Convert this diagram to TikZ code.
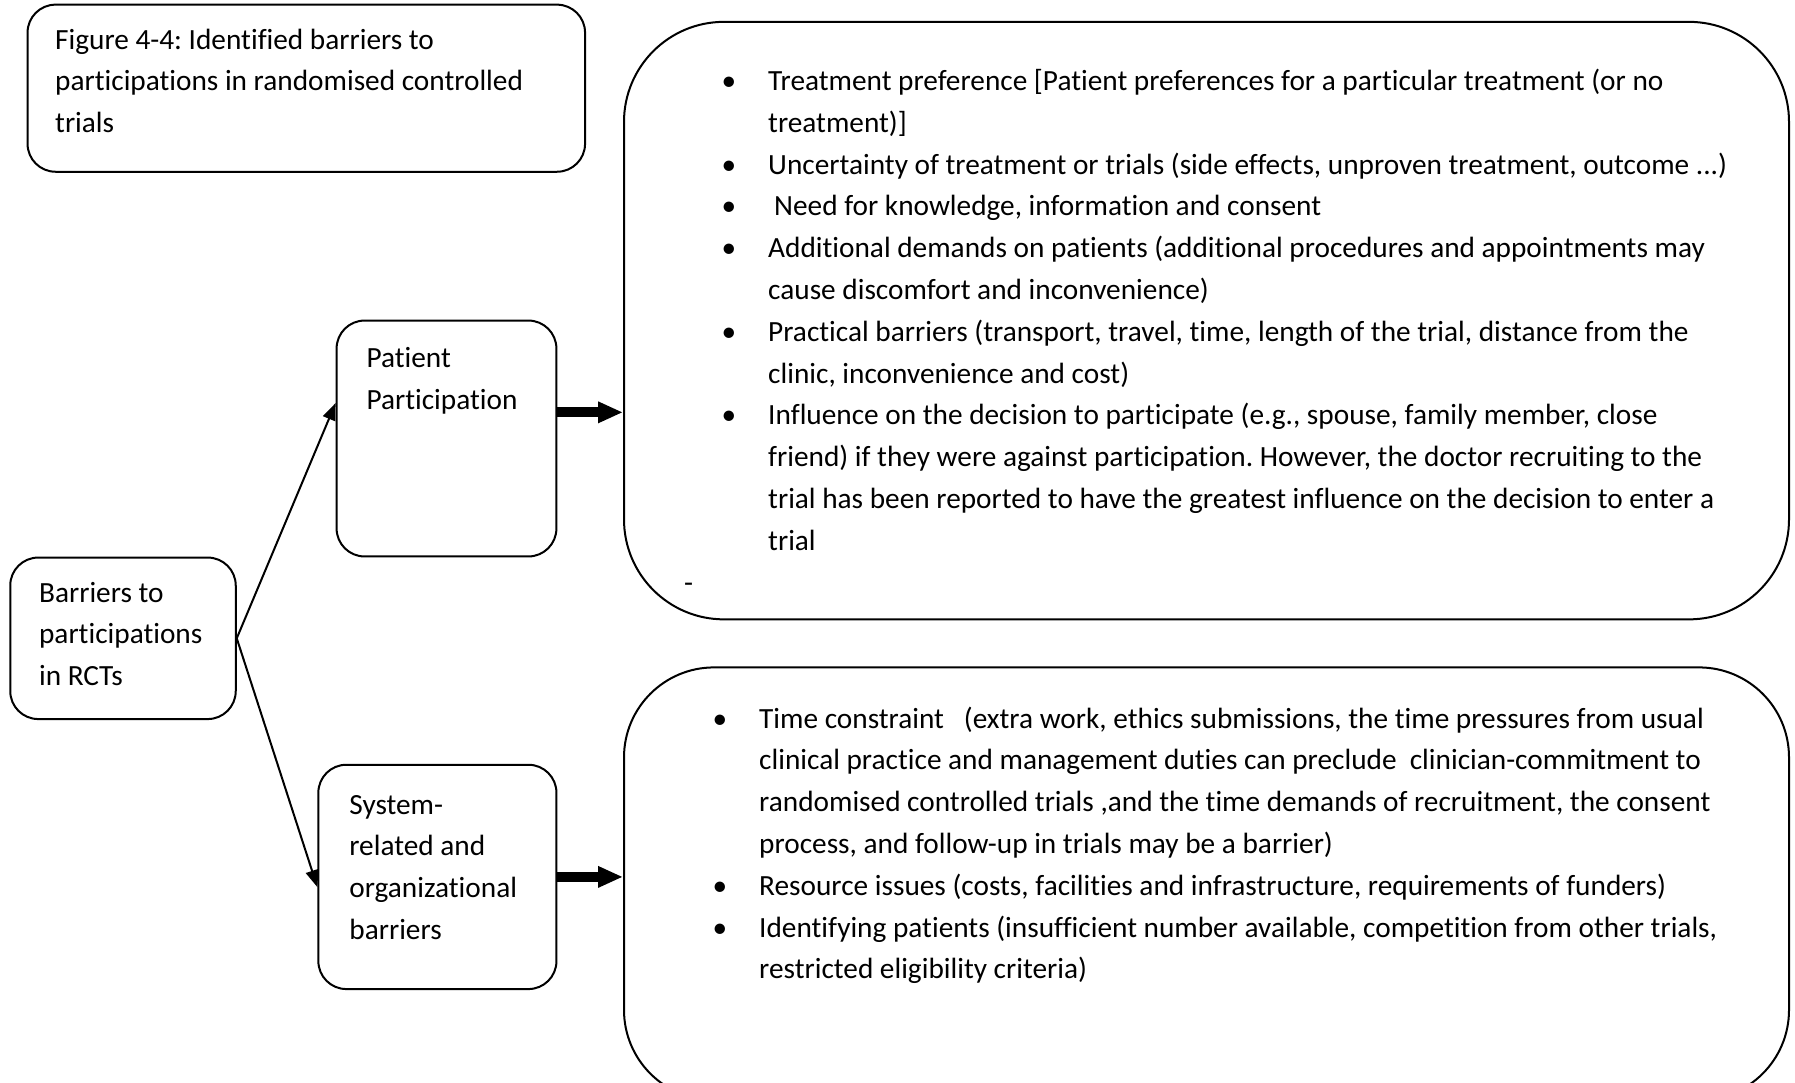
\documentclass[tikz,border=0pt]{standalone}
\usepackage{fontspec}
\setmainfont{Carlito}[Ligatures={TeX,NoCommon}]
\usetikzlibrary{arrows.meta,calc}
\newcommand\bul{\llap{\textbullet\hspace{32pt}}}
\frenchspacing
\begin{document}
\begin{tikzpicture}[x=1pt,y=-1pt,
  box/.style={draw, line width=2pt, rounded corners=28pt, inner sep=0pt},
  bigbox/.style={draw, line width=2pt, inner sep=0pt},
  txt/.style={anchor=base west, inner sep=0pt, align=left, font=\fontsize{29.3pt}{41.8pt}\selectfont\frenchspacing},
  thinarrow/.style={line width=2pt, -{Triangle[length=17pt,width=13pt]}},
  thickarrow/.style={line width=10pt, -{Triangle[length=25pt,width=20pt]}}]
\useasboundingbox (0,0) rectangle (1795,1082);
\clip (0,0) rectangle (1795,1082);
\fill[white] (0,0) rectangle (1795,1082);

% title (text nodes are anchored at the baseline of their last line)
\node[box, minimum width=557.5pt, minimum height=167.1pt] (titlebox) at (306.3,88.2) {};
\node[txt] (titletext) at (55,132.6) {Figure 4-4: Identified barriers to\\participations in randomised controlled\\trials};

% big boxes
\node[bigbox, rounded corners=100pt, minimum width=1165pt, minimum height=597.5pt] (topbox) at (1206.5,320.6) {};
\node[bigbox, rounded corners=90pt, minimum width=1165pt, minimum height=432.6pt] (botbox) at (1206.5,883.7) {};

\node[txt] (toplist) at (768,550.2) {\bul Treatment preference [Patient preferences for a particular treatment (or no\\
treatment)]\\
\bul Uncertainty of treatment or trials (side effects, unproven treatment, outcome ...)\\
\bul\hspace*{6pt}Need for knowledge, information and consent\\
\bul Additional demands on patients (additional procedures and appointments may\\
cause discomfort and inconvenience)\\
\bul Practical barriers (transport, travel, time, length of the trial, distance from the\\
clinic, inconvenience and cost)\\
\bul Influence on the decision to participate (e.g., spouse, family member, close\\
friend) if they were against participation. However, the doctor recruiting to the\\
trial has been reported to have the greatest influence on the decision to enter a\\
trial};
\node[txt] (dash) at (684,592) {-};

\node[txt] (botlist) at (759,978.8) {\bul Time constraint\ \ \ (extra work, ethics submissions, the time pressures from usual\\
clinical practice and management duties can preclude\ \ clinician-commitment to\\
randomised controlled trials ,and the time demands of recruitment, the consent\\
process, and follow-up in trials may be a barrier)\\
\bul Resource issues (costs, facilities and infrastructure, requirements of funders)\\
\bul Identifying patients (insufficient number available, competition from other trials,\\
restricted eligibility criteria)};

% small boxes
\node[box, minimum width=219.8pt, minimum height=235.9pt] (patient) at (446.5,438.5) {};
\node[txt] (patienttext) at (366.3,409.1) {Patient\\Participation};

\node[box, minimum width=225.5pt, minimum height=161.5pt] (barriers) at (123,638.3) {};
\node[txt] (barrierstext) at (38.9,685.6) {Barriers to\\participations\\in RCTs};

\node[box, minimum width=238.1pt, minimum height=224.3pt] (system) at (437.4,876.9) {};
\node[txt] (systemtext) at (349.2,939.4) {System-\\related and\\organizational\\barriers};

% connectors
\coordinate (pin) at ($(patient.north west)!0.351!(patient.south west)$);
\coordinate (sin) at ($(system.north west)!0.545!(system.south west)$);
\draw[thinarrow] (barriers.east) -- (pin);
\draw[thinarrow] (barriers.east) -- (sin);
\coordinate (pout) at ($(patient.north east)!0.39!(patient.south east)$);
\draw[thickarrow] (pout) -- (pout -| topbox.west);
\draw[thickarrow] (system.east) -- (system.east -| botbox.west);
\end{tikzpicture}
\end{document}
